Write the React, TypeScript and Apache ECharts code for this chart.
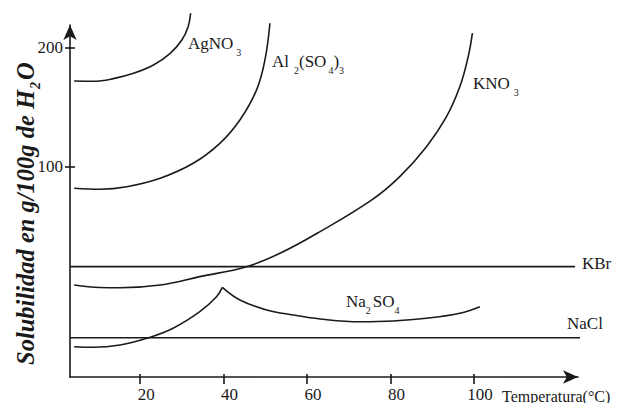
import React, { useEffect, useRef } from "react";
import * as echarts from "echarts";

// ---- data (temperature °C, solubility g/100 g H2O) ----
const xTickValues = [20, 40, 60, 80, 100];
const yTickValues = [100, 200];

const agno3: [number, number][] = [
  [4.2, 171.9], [8.8, 171.7], [13.6, 173.9], [18.4, 178.4], [23.2, 185.4],
  [27.2, 195.2], [30.0, 206.4], [31.5, 217.6], [32.1, 228.9],
];
const al2so43: [number, number][] = [
  [4.2, 81.7], [10.4, 80.9], [16.8, 83.0], [24.8, 90.1], [32.7, 102.7],
  [39.1, 119.5], [43.9, 139.1], [47.9, 164.4], [49.9, 189.6], [51.1, 220.5],
];
const kno3: [number, number][] = [
  [4.2, 0.4], [10.4, -1.7], [15.2, -1.9], [24.8, 0.4], [34.3, 7.4],
  [45.5, 15.8], [53.5, 27.0], [63.1, 45.2], [75.5, 71.9], [82.2, 91.5],
  [88.6, 116.7], [93.4, 141.9], [96.6, 167.2], [98.6, 192.4], [99.6, 212.1],
];
const na2so4Rise: [number, number][] = [
  [4.2, -51.5], [8.8, -52.0], [15.2, -50.1], [21.6, -44.5], [27.9, -36.0],
  [34.3, -22.1], [38.3, -9.5], [39.7, -1.6],
];
const na2so4Fall: [number, number][] = [
  [39.7, -1.6], [43.9, -12.2], [50.3, -20.6], [56.7, -24.9], [63.1, -28.2],
  [72.7, -30.5], [80.6, -29.9], [88.6, -27.6], [96.6, -23.4], [101.4, -17.9],
];
const kbr: [number, number][] = [[3.2, 15.8], [124.2, 15.8]];
const nacl: [number, number][] = [[3.2, -44.0], [131.1, -44.0]];

const INK = "#1a1a1a";
const FAMILY = '"Liberation Serif", "Times New Roman", serif';

type Part = { t: string; sub?: boolean; gap?: number };

let measureCtx: CanvasRenderingContext2D | null = null;
function textWidth(t: string, size: number) {
  if (!measureCtx) measureCtx = document.createElement("canvas").getContext("2d");
  if (!measureCtx) return t.length * size * 0.5;
  measureCtx.font = `${size}px "Liberation Serif"`;
  return measureCtx.measureText(t).width;
}

function txt(text: string, x: number, y: number, size: number, align: string, extra: any = {}) {
  return {
    type: "text",
    x,
    y,
    silent: true,
    style: {
      text,
      fill: INK,
      fontSize: size,
      fontFamily: FAMILY,
      fontStyle: extra.fontStyle ?? "normal",
      fontWeight: extra.fontWeight ?? "normal",
      align,
      verticalAlign: "middle",
      textAlign: align,
      textVerticalAlign: "middle",
    },
  };
}

function formula(parts: Part[], x: number, y: number, size = 17, subSize = 10, subDy = 9) {
  let cx = 0;
  const children: any[] = [];
  for (const p of parts) {
    cx += p.gap ?? 0;
    const fs = p.sub ? subSize : size;
    children.push(txt(p.t, cx, p.sub ? subDy : 0, fs, "left"));
    cx += textWidth(p.t, fs);
  }
  return { type: "group", x, y, children };
}

function lineSeries(name: string, data: [number, number][], smooth: number | boolean) {
  return {
    name,
    type: "line",
    data,
    xAxisIndex: 0,
    yAxisIndex: 0,
    symbol: "none",
    showSymbol: false,
    smooth,
    clip: false,
    silent: true,
    lineStyle: { color: INK, width: 1.6 },
    emphasis: { disabled: true },
  };
}

export default function App() {
  const ref = useRef<HTMLDivElement>(null);

  useEffect(() => {
    if (!ref.current) return;
    const chart = echarts.init(ref.current, undefined, { renderer: "svg" });

    const nameFont = { fontStyle: "italic", fontWeight: "bold" };
    const yName = {
      type: "group",
      x: 25,
      y: 90,
      rotation: Math.PI / 2,
      children: [
        txt("Solubilidad en g/100g de H", 0, 0, 24.5, "right", nameFont),
        txt("2", 1, 10, 14, "left", nameFont),
        txt("O", 10, 0, 24.5, "left", nameFont),
      ],
    };

    const labels = [
      formula([{ t: "AgNO" }, { t: "3", sub: true, gap: 3 }], 188, 43),
      formula(
        [
          { t: "Al" },
          { t: "2", sub: true, gap: 5 },
          { t: "(SO" },
          { t: "4", sub: true, gap: 2 },
          { t: ")" },
          { t: "3", sub: true },
        ],
        272,
        61
      ),
      formula([{ t: "KNO" }, { t: "3", sub: true, gap: 4 }], 473, 83),
      formula([{ t: "KBr" }], 582, 263),
      formula([{ t: "NaCl" }], 567, 323),
      formula([{ t: "Na" }, { t: "2", sub: true }, { t: "SO", gap: 2 }, { t: "4", sub: true }], 346, 301),
      formula([{ t: "Temperatura(°C)" }], 502, 396, 16),
      yName,
    ];

    const axisLineStyle = { color: INK, width: 1.6 };
    const labelStyle = { color: INK, fontFamily: FAMILY, fontSize: 17 };

    chart.setOption({
      animation: false,
      backgroundColor: "#ffffff",
      grid: { left: 70, right: 42, top: 25, bottom: 26, containLabel: false, outerBoundsMode: "none" },
      xAxis: [
        {
          type: "value",
          min: 3.2,
          max: 124.9,
          position: "bottom",
          axisLine: {
            show: true,
            onZero: false,
            symbol: ["none", "arrow"],
            symbolSize: [10, 15],
            lineStyle: axisLineStyle,
          },
          axisTick: { show: true, inside: false, length: 7, customValues: xTickValues, lineStyle: axisLineStyle },
          axisLabel: {
            show: true,
            customValues: xTickValues,
            margin: 9,
            padding: [0, 0, 0, 12],
            formatter: (v: number) => String(v),
            ...labelStyle,
          },
          splitLine: { show: false },
        },
        {
          type: "value",
          min: 3.2,
          max: 124.9,
          position: "bottom",
          offset: 0,
          axisLine: { show: false, onZero: false },
          axisTick: { show: true, inside: true, length: 3, customValues: xTickValues, lineStyle: axisLineStyle },
          axisLabel: { show: false },
          splitLine: { show: false },
        },
      ],
      yAxis: [
        {
          type: "value",
          min: -77,
          max: 219,
          position: "left",
          axisLine: {
            show: true,
            onZero: false,
            symbol: ["none", "arrow"],
            symbolSize: [10, 15],
            lineStyle: axisLineStyle,
          },
          axisTick: { show: true, inside: false, length: 5, customValues: yTickValues, lineStyle: axisLineStyle },
          axisLabel: {
            show: true,
            customValues: yTickValues,
            margin: 7,
            padding: [0, 0, 8, 0],
            formatter: (v: number) => String(v),
            ...labelStyle,
          },
          splitLine: { show: false },
        },
        {
          type: "value",
          min: -77,
          max: 219,
          position: "left",
          offset: 0,
          axisLine: { show: false, onZero: false },
          axisTick: { show: true, inside: true, length: 5, customValues: yTickValues, lineStyle: axisLineStyle },
          axisLabel: { show: false },
          splitLine: { show: false },
        },
      ],
      series: [
        lineSeries("AgNO3", agno3, 0.4),
        lineSeries("Al2(SO4)3", al2so43, 0.4),
        lineSeries("KNO3", kno3, 0.4),
        lineSeries("KBr", kbr, false),
        lineSeries("NaCl", nacl, false),
        lineSeries("Na2SO4", na2so4Rise, 0.4),
        lineSeries("Na2SO4 ", na2so4Fall, 0.4),
      ],
      graphic: { elements: labels },
    });

    return () => chart.dispose();
  }, []);

  return (
    <div
      ref={ref}
      style={{ position: "fixed", left: 0, top: 0, width: 620, height: 403, background: "#fff" }}
    />
  );
}
